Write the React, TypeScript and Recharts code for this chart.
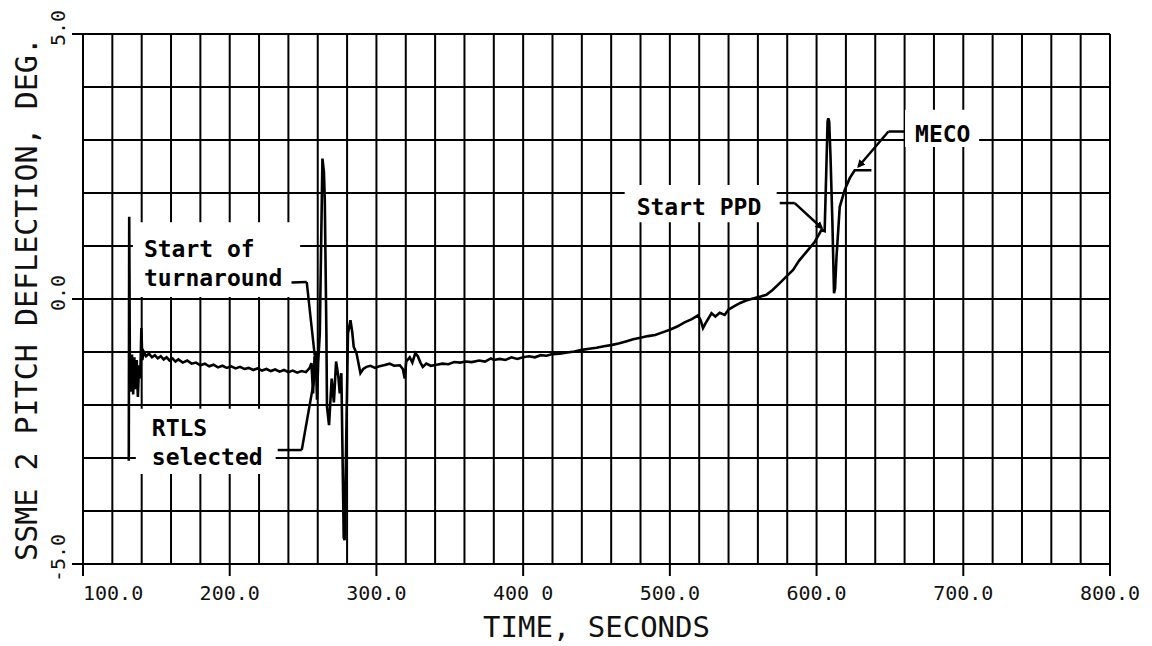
import React from 'react';
import {
  LineChart,
  Line,
  XAxis,
  YAxis,
  CartesianGrid,
  ReferenceArea,
  ReferenceLine,
} from 'recharts';

// time, seconds
const times = [
  131.2, 131.5, 131.9, 132.6, 133.4, 134.2, 135.0, 135.8, 136.6, 137.4, 138.2, 139.0, 139.8, 140.4, 141.5,
  143, 145, 147, 149, 151, 153, 155, 157, 159, 161, 163, 165, 168, 171, 174, 177, 180, 183, 186, 189,
  192, 195, 198, 201, 204, 207, 210, 213, 216, 219, 222, 225, 228, 231, 234, 237, 240, 243, 246, 249,
  252, 254.5, 255.7, 256.8, 257.8, 258.6, 259.5, 260.3, 261.4, 263.2, 264.2, 264.8, 265.9, 266.3, 267.7,
  269.5, 271.0, 272.5, 274.0, 275.0, 276.1, 277.7, 278.3, 279.5, 280.6, 282.3, 283.5, 284.5, 286.4,
  289.1, 291, 293.2, 296, 299, 302, 305, 309, 312, 316, 318, 319.3, 320.3, 322.7, 324.5, 326.5, 328.2,
  330, 331.6, 334, 337, 341, 345, 349, 353, 357, 361, 365, 370, 374, 378, 380, 384, 388, 392, 396, 400,
  404, 408, 412, 416, 420, 425, 430, 435, 440, 445, 450, 455, 460, 465, 470, 475, 480, 485, 490, 495,
  500, 505, 510, 515, 519.2, 521, 522.6, 524.5, 528.4, 531, 534, 537.4, 540, 543.1, 547.6, 552, 556.7,
  561, 565.8, 570, 574.9, 580, 584, 588, 593.1, 598.8, 603.3, 605.5, 606.6, 607.5, 608.0, 608.6, 609.5,
  610.8, 611.9, 612.6, 613.6, 615.8, 619.2, 622.6, 626.0, 637.4,
];

// SSME 2 pitch deflection, deg
const pitch = [
  -3.05, 1.55, -1.0, -1.75, -1.05, -1.8, -1.1, -1.7, -1.15, -1.85, -1.25, -1.5, -0.55, -1.15, -1.0,
  -1.08, -1.03, -1.1, -1.06, -1.12, -1.08, -1.14, -1.1, -1.16, -1.12, -1.18, -1.14, -1.2, -1.16, -1.22,
  -1.2, -1.25, -1.22, -1.27, -1.24, -1.29, -1.26, -1.3, -1.27, -1.31, -1.28, -1.32, -1.3, -1.34, -1.31,
  -1.35, -1.32, -1.36, -1.33, -1.37, -1.34, -1.38, -1.35, -1.39, -1.36,
  -1.38, -1.3, -1.21, -1.78, -1.1, -1.02, -1.9, -1.2, -0.65, 2.65, 2.4, 1.87, -0.65, -2.03, -2.38,
  -1.5, -1.95, -1.18, -1.45, -1.78, -1.4, -4.5, -4.55, -2.5, -0.65, -0.4, -0.62, -0.9, -1.02,
  -1.4, -1.32, -1.28, -1.26, -1.3, -1.27, -1.25, -1.22, -1.26, -1.25, -1.32, -1.5, -1.18, -1.1, -1.2, -1.02, -1.08,
  -1.2, -1.28, -1.22, -1.26, -1.24, -1.22, -1.23, -1.19, -1.2, -1.18, -1.19, -1.16, -1.18, -1.12, -1.15, -1.13, -1.15, -1.1, -1.13, -1.1,
  -1.08, -1.1, -1.06, -1.07, -1.04, -1.03, -1.01, -0.99, -0.96, -0.94, -0.92, -0.89, -0.87, -0.84, -0.8, -0.76, -0.73, -0.7, -0.68, -0.63,
  -0.58, -0.52, -0.44, -0.38, -0.31, -0.4, -0.55, -0.45, -0.27, -0.33, -0.26, -0.3, -0.2, -0.15, -0.08, -0.03, 0.01,
  0.04, 0.08, 0.17, 0.3, 0.44, 0.55, 0.72, 0.89, 1.08, 1.3, 1.28, 2.4, 3.35, 3.41, 3.35, 2.69,
  1.43, 0.11, 0.2, 0.8, 1.74, 2.06, 2.28, 2.43, 2.43,
];

const xLabels = [100, 200, 300, 400, 500, 600, 700, 800];
const xLabelText = ['100.0', '200.0', '300.0', '400 0', '500.0', '600.0', '700.0', '800.0'];
const yLabels = [-5, 0, 5];
const yLabelText = ['-5.0', '0.0', '5.0'];

// grid every 20 s and every 1 deg
const xGrid = Array.from({ length: 36 }, (_, i) => 100 + i * 20);
const yGrid = Array.from({ length: 11 }, (_, i) => -5 + i);

// annotation boxes: [x1, x2, y1, y2] in data units
const turnaroundBox = [134.0, 248.0, 0.04, 1.45];
const rtlsBox = [136.0, 231.3, -2.07, -3.3];
const ppdBox = [469.2, 572.8, 1.45, 2.15];
const mecoBox = [660.3, 710.8, 2.87, 3.57];

const turnaroundLeader = [[242.1, 0.31], [252.5, 0.32], [257.9, -1.06]];
const rtlsLeader = [[232.7, -2.85], [249.1, -2.85], [259.1, -1.28]];
const ppdLeader = [[574.9, 1.81], [585.1, 1.81], [603.5, 1.34]];
const mecoLeader = [[660.3, 3.16], [649.0, 3.16], [628.6, 2.5]];

const data = times.map((t, i) => ({ t, pitch: pitch[i] }));

const MONO = '"DejaVu Sans Mono", "Liberation Mono", monospace';

const XTick = (props: any) => {
  const { x, y, payload } = props;
  const idx = xLabels.indexOf(payload.value);
  if (idx < 0) return <g />;
  return (
    <g>
      <line x1={x} y1={y} x2={x} y2={y + 12} stroke="#000" strokeWidth={2} />
      <text
        x={x}
        y={y + 36}
        textAnchor={idx === 0 ? 'start' : 'middle'}
        fontFamily={MONO}
        fontSize={20}
        fill="#111"
      >
        {xLabelText[idx]}
      </text>
    </g>
  );
};

const YTick = (props: any) => {
  const { x, y, payload } = props;
  const idx = yLabels.indexOf(payload.value);
  if (idx < 0) return <g />;
  const tx = x - 18;
  const ty = y - 6;
  return (
    <g>
      <line x1={x - 11} y1={y} x2={x} y2={y} stroke="#000" strokeWidth={2} />
      <text
        x={tx}
        y={ty}
        transform={`rotate(-90, ${tx}, ${ty})`}
        textAnchor="middle"
        fontFamily={MONO}
        fontSize={20}
        fill="#111"
      >
        {yLabelText[idx]}
      </text>
    </g>
  );
};

const boxText = (lines: string[], dx: number, dy: number) => (props: any) => {
  const vb = props.viewBox || {};
  const x0 = (vb.x ?? 0) + dx;
  const y0 = (vb.y ?? 0) + dy;
  return (
    <text x={x0} y={y0} fontFamily={MONO} fontWeight="bold" fontSize={23} fill="#000">
      {lines.map((l, i) => (
        <tspan key={l} x={x0} dy={i === 0 ? 0 : 29}>
          {l}
        </tspan>
      ))}
    </text>
  );
};

const arrowShape = (props: any) => (
  <line
    x1={props.x1}
    y1={props.y1}
    x2={props.x2}
    y2={props.y2}
    stroke="#000"
    strokeWidth={2.5}
    markerEnd="url(#arrowHead)"
  />
);

function leaderLines(pts: number[][], key: string, arrow: boolean) {
  return pts.slice(1).map((p, i) => (
    <ReferenceLine
      key={`${key}-${i}`}
      segment={[
        { x: pts[i][0], y: pts[i][1] },
        { x: p[0], y: p[1] },
      ]}
      stroke="#000"
      strokeWidth={2.5}
      ifOverflow="visible"
      shape={arrow && i === pts.length - 2 ? arrowShape : undefined}
    />
  ));
}

function box(b: number[], lines: string[], dx: number, dy: number) {
  return (
    <ReferenceArea
      x1={b[0]}
      x2={b[1]}
      y1={b[2]}
      y2={b[3]}
      fill="#fff"
      fillOpacity={1}
      stroke="none"
      ifOverflow="visible"
      label={boxText(lines, dx, dy)}
    />
  );
}

export default function App() {
  return (
    <div style={{ position: 'absolute', left: 0, top: 0, background: '#fff' }}>
      <LineChart
        width={1152}
        height={646}
        data={data}
        margin={{ top: 34, right: 42, left: 0, bottom: 0 }}
      >
        <defs>
          <marker id="arrowHead" markerWidth="8" markerHeight="8" refX="6" refY="4" orient="auto" markerUnits="userSpaceOnUse">
            <path d="M0,0 L8,4 L0,8 z" fill="#000" />
          </marker>
        </defs>
        <CartesianGrid stroke="#000" strokeWidth={2} />
        <XAxis
          dataKey="t"
          type="number"
          domain={[100, 800]}
          ticks={xGrid}
          interval={0}
          tickSize={0}
          tickMargin={0}
          tickLine={false}
          axisLine={{ stroke: '#000', strokeWidth: 2 }}
          tick={<XTick />}
          height={82}
          allowDataOverflow
          label={{
            content: (p: any) => {
              const vb = p.viewBox || {};
              return (
                <text
                  x={vb.x + vb.width / 2}
                  y={vb.y + 73}
                  textAnchor="middle"
                  fontFamily={MONO}
                  fontSize={29}
                  fill="#111"
                >
                  TIME, SECONDS
                </text>
              );
            },
          }}
        />
        <YAxis
          type="number"
          domain={[-5, 5]}
          ticks={yGrid}
          interval={0}
          tickSize={0}
          tickMargin={0}
          tickLine={false}
          axisLine={{ stroke: '#000', strokeWidth: 2 }}
          tick={<YTick />}
          width={83}
          allowDataOverflow
          label={{
            content: (p: any) => {
              const vb = p.viewBox || {};
              const cx = vb.x + 37;
              const cy = vb.y + vb.height / 2;
              return (
                <text
                  x={cx}
                  y={cy}
                  transform={`rotate(-90, ${cx}, ${cy})`}
                  textAnchor="middle"
                  fontFamily={MONO}
                  fontSize={30}
                  fill="#111"
                >
                  SSME 2 PITCH DEFLECTION, DEG.
                </text>
              );
            },
          }}
        />
        {box(turnaroundBox, ['Start of', 'turnaround'], 11, 35)}
        {box(rtlsBox, ['RTLS', 'selected'], 16, 27)}
        {box(ppdBox, ['Start PPD'], 12, 30)}
        {box(mecoBox, ['MECO'], 10, 32)}
        <Line
          type="linear"
          dataKey="pitch"
          stroke="#000"
          strokeWidth={2.6}
          dot={false}
          isAnimationActive={false}
        />
        {leaderLines(turnaroundLeader, 'turn', false)}
        {leaderLines(rtlsLeader, 'rtls', false)}
        {leaderLines(ppdLeader, 'ppd', true)}
        {leaderLines(mecoLeader, 'meco', true)}
      </LineChart>
    </div>
  );
}
